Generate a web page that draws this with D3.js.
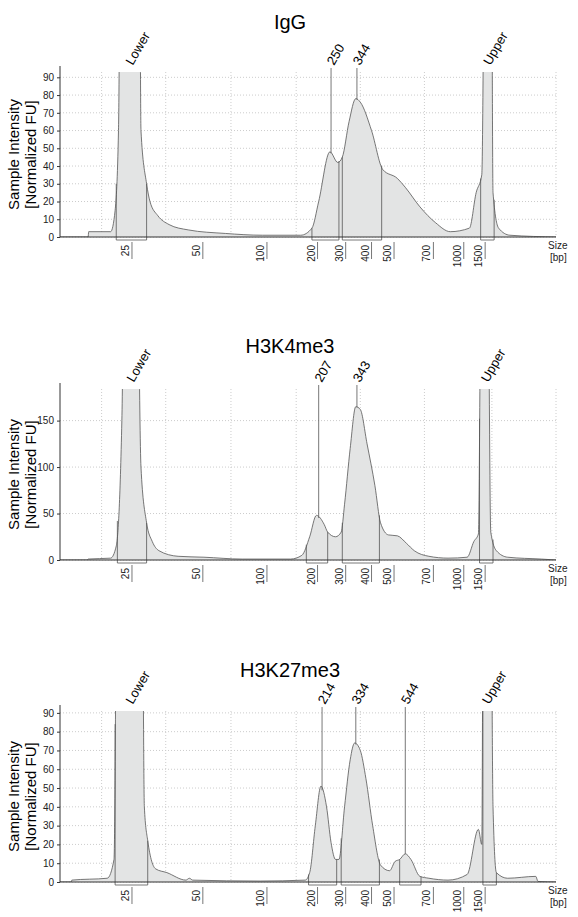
<!DOCTYPE html>
<html><head><meta charset="utf-8">
<script src="https://cdn.jsdelivr.net/npm/d3@7"></script>
<style>body{margin:0;background:#fff;font-family:Arial,"Liberation Sans",sans-serif}</style>
</head><body><div id="chart"></div>
<script>
// x is migration position (0..441 plot units), sizes are tick labels at positions
var sizeLabels = ["25", "50", "100", "200", "300", "400", "500", "700", "1000", "1500"];
var sizePos = [64, 127, 184, 229, 254, 277, 297, 332, 359, 378];
var gridX = [37, 94, 152, 210, 267, 324, 384, 441];

var titles = ["IgG", "H3K4me3", "H3K27me3"];
var yMax = [93, 184, 91];
var yTicks = [[0,10,20,30,40,50,60,70,80,90], [0,50,100,150], [0,10,20,30,40,50,60,70,80,90]];

var igg = [[0,0],[25,0],[25.5,3],[45,3],[49,15],[52,60],[55,300],[70,300],[72,60],[77,30],[80,20],[87,12],[97,7],[114,4],[147,2],[180,1],[214,1],[224,5],[230,20],[240,48],[247,42],[251,45],[257,65],[263,78],[267,76],[277,60],[287,38],[300,33],[307,28],[320,17],[334,8],[347,3],[364,5],[370,25],[375,35],[379,300],[383,300],[385,25],[390,5],[400,1],[442,0]];
var k4 = [[0,0],[24,0],[25,1],[45,2],[50,15],[55,150],[58,400],[68,400],[72,100],[77,40],[82,20],[88,10],[105,4],[128,3],[162,1],[205,1],[215,5],[222,25],[228,48],[235,38],[238,30],[245,25],[250,30],[253,60],[258,120],[263,165],[267,162],[273,125],[280,80],[285,40],[292,27],[300,26],[308,18],[315,10],[328,4],[345,2],[362,3],[368,20],[372,28],[375,400],[380,400],[383,30],[388,10],[398,3],[428,1],[441,0]];
var k27 = [[0,0],[10,0],[10.5,1],[42,2],[48,12],[52,300],[72,300],[75,40],[78,22],[85,7],[95,5],[112,1],[115,2],[118,1],[178,0.5],[218,1],[222,5],[227,30],[232,51],[237,40],[241,21],[245,12],[248,12],[253,40],[258,65],[262,74],[267,70],[272,55],[278,30],[285,9],[293,6],[298,11],[302,12],[307,15],[312,12],[320,3],[328,2],[345,1],[362,4],[372,28],[375,20],[377,300],[382,300],[385,40],[388,5],[398,2],[423,3],[425,0.3],[442,0]];
var curves = [igg, k4, k27];

var regions = [
  [[50,77],[224,248],[251,286],[374,386]],
  [[51,77],[219,238],[251,284],[373,385]],
  [[49,78],[221,246],[250,284],[302,321],[376,388]]
];
var peakNames = [["Lower","250","344","Upper"],["Lower","207","343","Upper"],["Lower","214","334","544","Upper"]];
var peakPos = [[62,241,264,380],[63,230,264,378],[62,233,263,307,379]];

var W = 578, H = 917;
var svg = d3.select("#chart").append("svg").attr("width", W).attr("height", H);
var panelTop = [72, 389, 711];
var panelBase = [237, 560, 882];
var titleY = [29, 353, 677];

function interp(data, x) {
  for (var i = 1; i < data.length; i++) {
    if (data[i][0] >= x) {
      var a = data[i-1], b = data[i];
      var t = (x - a[0]) / ((b[0] - a[0]) || 1);
      return a[1] + t * (b[1] - a[1]);
    }
  }
  return 0;
}

titles.forEach(function(title, p) {
  var left = 60, plotW = 496;
  var x = d3.scaleLinear().domain([0, 441]).range([left, left + plotW]);
  var y = d3.scaleLinear().domain([0, yMax[p]]).range([panelBase[p], panelTop[p]]);
  var g = svg.append("g");
  var data = curves[p];

  g.append("text").attr("x", 290).attr("y", titleY[p]).attr("text-anchor", "middle")
    .style("font-size", "20px").text(title);

  var clipId = "clip" + p;
  g.append("clipPath").attr("id", clipId).append("rect")
    .attr("x", left).attr("y", panelTop[p]).attr("width", plotW).attr("height", panelBase[p] - panelTop[p]);

  // grid
  g.selectAll(".gy").data(yTicks[p]).enter().append("line")
    .attr("x1", left).attr("x2", left + plotW)
    .attr("y1", function(d) { return y(d); }).attr("y2", function(d) { return y(d); })
    .attr("stroke", "#ccc").attr("stroke-dasharray", "1,2");
  g.selectAll(".gx").data(gridX).enter().append("line")
    .attr("x1", function(d) { return x(d); }).attr("x2", function(d) { return x(d); })
    .attr("y1", panelTop[p]).attr("y2", panelBase[p])
    .attr("stroke", "#ccc").attr("stroke-dasharray", "1,2");

  var area = d3.area().curve(d3.curveMonotoneX).x(function(d) { return x(d[0]); }).y0(y(0)).y1(function(d) { return y(d[1]); });
  var line = d3.line().curve(d3.curveMonotoneX).x(function(d) { return x(d[0]); }).y(function(d) { return y(d[1]); });
  var cg = g.append("g").attr("clip-path", "url(#" + clipId + ")");
  cg.append("path").datum(data).attr("d", area).attr("fill", "#e3e4e4");
  cg.append("path").datum(data).attr("d", line).attr("fill", "none").attr("stroke", "#555").attr("stroke-width", 0.8);

  // region boxes
  regions[p].forEach(function(r) {
    r.forEach(function(rx) {
      var v = Math.min(interp(data, rx), yMax[p]);
      cg.append("line").attr("x1", x(rx)).attr("x2", x(rx)).attr("y1", y(0) + 3).attr("y2", y(v))
        .attr("stroke", "#555").attr("stroke-width", 0.8);
    });
    g.append("line").attr("x1", x(r[0])).attr("x2", x(r[1])).attr("y1", y(0) + 3).attr("y2", y(0) + 3)
      .attr("stroke", "#555").attr("stroke-width", 0.8);
    g.append("line").attr("x1", x(r[0])).attr("x2", x(r[0])).attr("y1", y(0)).attr("y2", y(0) + 3).attr("stroke", "#555").attr("stroke-width", 0.8);
    g.append("line").attr("x1", x(r[1])).attr("x2", x(r[1])).attr("y1", y(0)).attr("y2", y(0) + 3).attr("stroke", "#555").attr("stroke-width", 0.8);
  });

  // peak markers
  peakNames[p].forEach(function(name, i) {
    var px = x(peakPos[p][i]);
    var isStd = (name === "Lower" || name === "Upper");
    if (!isStd) {
      var v = Math.min(interp(data, peakPos[p][i]), yMax[p]);
      g.append("line").attr("x1", px).attr("x2", px).attr("y1", panelTop[p] - 4).attr("y2", y(v))
        .attr("stroke", "#555").attr("stroke-width", 0.8);
    }
    g.append("text").attr("transform", "translate(" + (px + 3) + "," + (panelTop[p] - 6) + ") rotate(-60)")
      .style("font-size", "13px").text(name);
  });

  // axes
  g.append("line").attr("x1", left).attr("x2", left + plotW).attr("y1", y(0)).attr("y2", y(0)).attr("stroke", "#333");
  g.append("line").attr("x1", left).attr("x2", left).attr("y1", panelTop[p] - 6).attr("y2", y(0)).attr("stroke", "#333");
  var yAxis = g.append("g").attr("transform", "translate(" + left + ",0)")
    .call(d3.axisLeft(y).tickValues(yTicks[p]).tickSize(3));
  yAxis.select(".domain").remove();
  yAxis.selectAll("text").style("font-size", "10px").attr("fill", "#222");
  yAxis.selectAll("line").attr("stroke", "#333");

  sizePos.forEach(function(sp, i) {
    var sx = x(sp);
    g.append("line").attr("x1", sx).attr("x2", sx).attr("y1", y(0) + 5).attr("y2", y(0) + 22).attr("stroke", "#777");
    g.append("text").attr("transform", "translate(" + (sx - 3) + "," + (y(0) + 8) + ") rotate(-90)")
      .attr("text-anchor", "end").style("font-size", "10px").attr("fill", "#222").text(sizeLabels[i]);
  });
  g.append("text").attr("x", left + plotW - 8).attr("y", y(0) + 12).style("font-size", "10px").attr("fill", "#222").text("Size");
  g.append("text").attr("x", left + plotW - 6).attr("y", y(0) + 24).style("font-size", "10px").attr("fill", "#222").text("[bp]");

  var mid = (panelTop[p] + panelBase[p]) / 2;
  g.append("text").attr("transform", "translate(19," + mid + ") rotate(-90)").attr("text-anchor", "middle")
    .style("font-size", "15px").text("Sample Intensity");
  g.append("text").attr("transform", "translate(36," + mid + ") rotate(-90)").attr("text-anchor", "middle")
    .style("font-size", "15px").text("[Normalized FU]");
});
</script></body></html>
